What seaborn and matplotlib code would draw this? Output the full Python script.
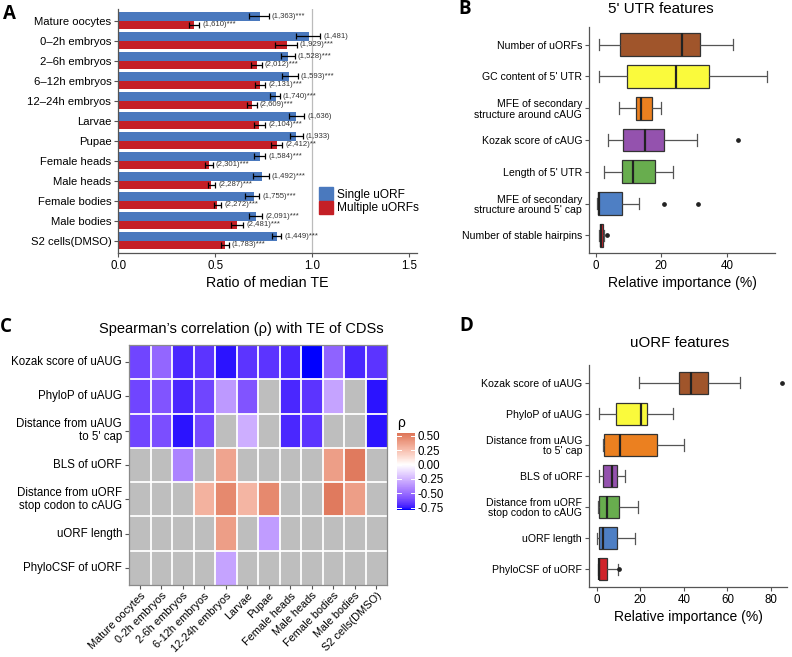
import numpy as np
import pandas as pd
import matplotlib
matplotlib.use("Agg")
import matplotlib.pyplot as plt
import seaborn as sns
from matplotlib.colors import ListedColormap
from matplotlib.patches import Patch

plt.rcParams['font.family'] = ['Liberation Sans', 'DejaVu Sans']

# ---------------- Panel A data ----------------
tissues_A = ["Mature oocytes", "0–2h embryos", "2–6h embryos", "6–12h embryos", "12–24h embryos",
             "Larvae", "Pupae", "Female heads", "Male heads", "Female bodies", "Male bodies",
             "S2 cells(DMSO)"]
single_ratio = [0.729, 0.981, 0.876, 0.880, 0.811, 0.918, 0.918, 0.729, 0.741, 0.698, 0.708, 0.816]
single_lo = [0.675, 0.916, 0.837, 0.845, 0.782, 0.881, 0.885, 0.699, 0.692, 0.653, 0.674, 0.792]
single_hi = [0.775, 1.040, 0.909, 0.924, 0.833, 0.957, 0.950, 0.758, 0.775, 0.727, 0.741, 0.840]
multi_ratio = [0.392, 0.868, 0.713, 0.732, 0.687, 0.725, 0.816, 0.466, 0.478, 0.510, 0.612, 0.548]
multi_lo = [0.363, 0.806, 0.685, 0.706, 0.662, 0.698, 0.785, 0.447, 0.464, 0.491, 0.579, 0.527]
multi_hi = [0.418, 0.919, 0.740, 0.758, 0.713, 0.758, 0.845, 0.486, 0.500, 0.531, 0.644, 0.570]
single_labels = ["(1,363)***", "(1,481)", "(1,528)***", "(1,593)***", "(1,740)***", "(1,636)",
                 "(1,933)", "(1,584)***", "(1,492)***", "(1,755)***", "(2,091)***", "(1,449)***"]
multi_labels = ["(1,610)***", "(1,929)***", "(2,012)***", "(2,131)***", "(2,609)***", "(2,104)***",
                "(2,412)**", "(2,301)***", "(2,287)***", "(2,272)***", "(2,481)***", "(1,783)***"]
groups_A = ["Single uORF", "Multiple uORFs"]

# ---------------- Panel B data ----------------
feat_B = ["Number of uORFs", "GC content of 5' UTR", "MFE of secondary\nstructure around cAUG",
          "Kozak score of cAUG", "Length of 5' UTR", "MFE of secondary\nstructure around 5' cap",
          "Number of stable hairpins"]
vals_B = [
    [1.1, 3.5, 5.8, 7.6, 14.0, 21.5, 26.2, 28.0, 30.1, 31.8, 35.5, 38.9, 41.8],
    [1.0, 4.2, 7.5, 9.7, 15.3, 20.1, 24.4, 27.9, 31.6, 34.7, 40.2, 46.8, 52.2],
    [7.2, 9.0, 11.1, 12.4, 12.9, 13.4, 13.8, 15.0, 16.2, 17.1, 18.0, 19.2, 20.1],
    [3.7, 5.5, 7.1, 8.4, 10.6, 13.2, 15.1, 17.0, 19.3, 21.0, 25.8, 30.9, 43.3],
    [2.6, 4.8, 6.9, 8.2, 9.4, 10.5, 11.3, 13.6, 16.0, 18.1, 20.2, 22.0, 23.7],
    [0.3, 0.5, 0.6, 0.7, 0.9, 1.0, 1.1, 3.2, 5.9, 8.2, 13.3, 21.0, 31.3],
    [1.1, 1.2, 1.4, 1.5, 1.6, 1.7, 1.8, 1.9, 2.0, 2.2, 2.3, 2.5, 3.4],
]

# ---------------- Panel C data ----------------
tissues_C = ["Mature oocytes", "0-2h embryos", "2-6h embryos", "6-12h embryos", "12-24h embryos",
             "Larvae", "Pupae", "Female heads", "Male heads", "Female bodies", "Male bodies",
             "S2 cells(DMSO)"]
feat_C = ["Kozak score of uAUG", "PhyloP of uAUG", "Distance from uAUG\nto 5' cap", "BLS of uORF",
          "Distance from uORF\nstop codon to cAUG", "uORF length", "PhyloCSF of uORF"]
nan = np.nan
rho_kozak = [-0.63, -0.52, -0.72, -0.68, -0.76, -0.68, -0.68, -0.72, -0.79, -0.53, -0.72, -0.68]
rho_phylop = [-0.63, -0.58, -0.72, -0.63, -0.35, -0.58, nan, -0.72, -0.68, -0.31, nan, -0.76]
rho_dist_cap = [-0.63, -0.60, -0.76, -0.61, nan, -0.27, nan, -0.72, -0.68, nan, nan, -0.76]
rho_bls = [nan, nan, -0.42, nan, 0.36, nan, nan, nan, nan, 0.38, 0.52, nan]
rho_dist_stop = [nan, nan, nan, 0.30, 0.47, 0.29, 0.47, nan, nan, 0.52, 0.38, nan]
rho_len = [nan, nan, nan, nan, 0.38, nan, -0.33, nan, nan, nan, nan, nan]
rho_phylocsf = [nan, nan, nan, nan, -0.31, nan, nan, nan, nan, nan, nan, nan]

# ---------------- Panel D data ----------------
feat_D = ["Kozak score of uAUG", "PhyloP of uAUG", "Distance from uAUG\nto 5' cap", "BLS of uORF",
          "Distance from uORF\nstop codon to cAUG", "uORF length", "PhyloCSF of uORF"]
vals_D = [
    [19.6, 28.4, 34.5, 37.9, 39.6, 41.5, 43.3, 46.0, 48.7, 51.1, 56.2, 65.8, 85.2],
    [1.2, 3.5, 6.4, 9.0, 13.1, 17.2, 20.2, 21.1, 22.0, 22.9, 26.0, 30.5, 34.9],
    [2.9, 3.1, 3.3, 3.5, 5.6, 8.2, 10.7, 16.0, 21.8, 27.5, 31.4, 35.9, 40.1],
    [1.2, 1.8, 2.3, 2.8, 4.1, 5.6, 6.9, 7.7, 8.5, 9.2, 10.5, 11.8, 13.1],
    [0.5, 0.7, 1.0, 1.2, 2.5, 3.7, 4.9, 6.8, 8.6, 10.4, 13.2, 16.1, 19.1],
    [0.3, 0.6, 0.9, 1.2, 1.8, 2.5, 3.1, 5.2, 7.4, 9.5, 12.2, 14.9, 17.6],
    [0.6, 0.7, 0.8, 0.9, 1.0, 1.1, 1.2, 2.3, 3.5, 4.6, 6.8, 9.8, 10.3],
]

# ---------------- styles ----------------
C_BLUE = "#4A79BE"
C_RED = "#C41F26"
box_colors = ["#A0552B", "#FAFA3C", "#EB8020", "#9452AE", "#68AD4E", "#4E7FC4", "#D0232A"]
AX_COL = "#555555"
W, H = 792, 657


def ax_rect(left, top, right, bottom):
    return [left / W, 1 - bottom / H, (right - left) / W, (bottom - top) / H]


# Lab-space colour ramp (like ggplot2 gradient2)
_M = np.array([[0.4124564, 0.3575761, 0.1804375],
               [0.2126729, 0.7151522, 0.0721750],
               [0.0193339, 0.1191920, 0.9503041]])
_Minv = np.linalg.inv(_M)
_WHITE = np.array([0.95047, 1.0, 1.08883])


def hex2rgb(h):
    h = h.lstrip('#')
    return np.array([int(h[i:i + 2], 16) / 255 for i in (0, 2, 4)])


def rgb2lab(rgb):
    lin = np.where(rgb <= 0.04045, rgb / 12.92, ((rgb + 0.055) / 1.055) ** 2.4)
    xyz = _M @ lin / _WHITE
    f = np.where(xyz > 0.008856, np.cbrt(xyz), 7.787 * xyz + 16 / 116)
    return np.array([116 * f[1] - 16, 500 * (f[0] - f[1]), 200 * (f[1] - f[2])])


def lab2rgb(lab):
    L, a, b = lab
    fy = (L + 16) / 116
    fx = fy + a / 500
    fz = fy - b / 200
    f = np.array([fx, fy, fz])
    xyz = np.where(f ** 3 > 0.008856, f ** 3, (f - 16 / 116) / 7.787) * _WHITE
    lin = np.clip(_Minv @ xyz, 0, 1)
    rgb = np.where(lin <= 0.0031308, 12.92 * lin, 1.055 * np.power(lin, 1 / 2.4) - 0.055)
    return np.clip(rgb, 0, 1)


def lab_ramp(c1, c2, n):
    l1, l2 = rgb2lab(hex2rgb(c1)), rgb2lab(hex2rgb(c2))
    return [lab2rgb(l1 + (l2 - l1) * t) for t in np.linspace(0, 1, n)]


cmap_cols = lab_ramp("#0000FF", "#FFFFFF", 128) + lab_ramp("#FFFFFF", "#C03214", 128)[1:]
cmap_rho = ListedColormap(cmap_cols)

fig = plt.figure(figsize=(W / 100, H / 100), dpi=100)

# ================= Panel A =================
axA = fig.add_axes(ax_rect(118.3, 9, 417, 252.7))
dfA = pd.DataFrame({
    "tissue": tissues_A * 2,
    "ratio": single_ratio + multi_ratio,
    "type": [groups_A[0]] * len(tissues_A) + [groups_A[1]] * len(tissues_A),
})
sns.barplot(data=dfA, x="ratio", y="tissue", hue="type", hue_order=groups_A, order=tissues_A,
            palette=[C_BLUE, C_RED], width=0.85, errorbar=None, saturation=1, legend=False, ax=axA,
            zorder=2)
axA.axvline(1.0, color="#BBBBBB", lw=0.9, zorder=1)
for cont, ratio, lo, hi, labs in zip(axA.containers, [single_ratio, multi_ratio],
                                     [single_lo, multi_lo], [single_hi, multi_hi],
                                     [single_labels, multi_labels]):
    ys = [b.get_y() + b.get_height() / 2 for b in cont]
    r = np.array(ratio)
    axA.errorbar(r, ys, xerr=[r - np.array(lo), np.array(hi) - r], fmt='none', ecolor='black',
                 elinewidth=0.9, capsize=2.3, capthick=0.9, zorder=3)
    for y, h, lab in zip(ys, hi, labs):
        axA.text(h + 0.016, y, lab, va='center', ha='left', fontsize=5.6, color='#333333')
axA.set_xlim(0, 1.54)
axA.set_ylim(11.6, -0.58)
axA.set_xticks([0, 0.5, 1.0, 1.5])
axA.set_xticklabels(["0.0", "0.5", "1.0", "1.5"])
axA.set_xlabel("Ratio of median TE", fontsize=10.3, labelpad=3)
axA.set_ylabel("")
axA.tick_params(axis='y', labelsize=8.1, length=3, color=AX_COL, pad=2)
axA.tick_params(axis='x', labelsize=8.3, length=3, color=AX_COL, pad=2)
for s in ["top", "right"]:
    axA.spines[s].set_visible(False)
for s in ["left", "bottom"]:
    axA.spines[s].set_color(AX_COL)
    axA.spines[s].set_linewidth(0.9)
axA.legend(handles=[Patch(color=C_BLUE, label=groups_A[0]), Patch(color=C_RED, label=groups_A[1])],
           loc='upper left', bbox_to_anchor=(0.672, 0.27), frameon=False, fontsize=8.6,
           handlelength=1.15, handleheight=1.35, handletextpad=0.35, labelspacing=0.0,
           borderaxespad=0, borderpad=0)


# ================= Boxplot helper =================
def draw_box(ax, feats, vals, xlim, xticks, ylim):
    df = pd.DataFrame({
        "feature": [f for f, v in zip(feats, vals) for _ in v],
        "value": [x for v in vals for x in v],
    })
    sns.boxplot(data=df, x="value", y="feature", hue="feature", order=feats, hue_order=feats,
                palette=box_colors, legend=False, width=0.72, saturation=1, linecolor="#333333",
                linewidth=0.9, ax=ax,
                flierprops=dict(marker='o', markerfacecolor='#222222', markeredgecolor='#222222',
                                markersize=2.4),
                medianprops=dict(color='#222222', linewidth=1.6),
                whiskerprops=dict(color='#555555'), capprops=dict(color='#555555'))
    ax.set_xlim(*xlim)
    ax.set_ylim(*ylim)
    ax.set_xticks(xticks)
    ax.set_xlabel("Relative importance (%)", fontsize=10, labelpad=3)
    ax.set_ylabel("")
    ax.tick_params(axis='y', labelsize=7.6, length=3, color=AX_COL, pad=2)
    ax.tick_params(axis='x', labelsize=8.3, length=3, color=AX_COL, pad=2)
    for lab in ax.get_yticklabels():
        lab.set_linespacing(1.05)
    for s in ["top", "right"]:
        ax.spines[s].set_visible(False)
    for s in ["left", "bottom"]:
        ax.spines[s].set_color(AX_COL)
        ax.spines[s].set_linewidth(0.9)


# ================= Panel B =================
axB = fig.add_axes(ax_rect(589, 27, 775, 253))
draw_box(axB, feat_B, vals_B, (-2.0, 54.7), [0, 20, 40], (6.55, -0.55))
fig.text(661 / W, 1 - 9 / H, "5' UTR features", ha='center', va='center', fontsize=10.9)

# ================= Panel D =================
axD = fig.add_axes(ax_rect(589, 365, 787, 587))
draw_box(axD, feat_D, vals_D, (-3.5, 87.3), [0, 20, 40, 60, 80], (6.57, -0.57))
fig.text(680 / W, 1 - 343 / H, "uORF features", ha='center', va='center', fontsize=10.9)

# ================= Panel C =================
axC = fig.add_axes(ax_rect(129, 345, 387, 585))
cax = fig.add_axes(ax_rect(397, 433, 415, 510))
dfC = pd.DataFrame([rho_kozak, rho_phylop, rho_dist_cap, rho_bls, rho_dist_stop, rho_len,
                    rho_phylocsf], index=feat_C, columns=tissues_C)
sns.heatmap(dfC, cmap=cmap_rho, vmin=-0.79, vmax=0.55, center=0, ax=axC, cbar_ax=cax,
            linewidths=0, cbar_kws={"ticks": [-0.75, -0.5, -0.25, 0, 0.25, 0.5]})
axC.set_facecolor("#BEBEBE")
for i in range(1, dfC.shape[0]):
    axC.axhline(i, color='white', lw=1.3)
for j in range(1, dfC.shape[1]):
    axC.axvline(j, color='white', lw=1.3)
for s in axC.spines.values():
    s.set_visible(True)
    s.set_color("#8A8A8A")
    s.set_linewidth(0.9)
axC.set_xlabel("")
axC.set_ylabel("")
axC.set_yticklabels(feat_C, rotation=0, fontsize=8.3, linespacing=1.05)
axC.set_xticklabels(tissues_C, rotation=45, ha='right', rotation_mode='anchor', fontsize=7.9)
axC.tick_params(axis='y', length=3, color=AX_COL, width=0.8, pad=2)
axC.tick_params(axis='x', length=3, color=AX_COL, width=0.8, pad=1)
cbar = axC.collections[0].colorbar
cbar.outline.set_visible(False)
cbar.set_ticklabels(["-0.75", "-0.50", "-0.25", "0.00", "0.25", "0.50"])
cbar.ax.tick_params(length=0, labelsize=8.3, pad=2)
for t in [-0.75, -0.5, -0.25, 0, 0.25, 0.5]:
    cbar.ax.plot([0, 0.2], [t, t], color='white', lw=0.7, transform=cbar.ax.get_yaxis_transform())
    cbar.ax.plot([0.8, 1.0], [t, t], color='white', lw=0.7, transform=cbar.ax.get_yaxis_transform())
fig.text(397 / W, 1 - 423 / H, "ρ", ha='left', va='center', fontsize=10)
fig.text(241 / W, 1 - 329 / H, "Spearman’s correlation (ρ) with TE of CDSs", ha='center',
         va='center', fontsize=10.5)

# ================= Panel letters =================
for lab, x, y in [("A", 3, 14), ("B", 458, 9), ("C", 0, 327), ("D", 459, 326)]:
    fig.text(x / W, 1 - y / H, lab, ha='left', va='center', fontsize=13.5, fontweight='bold',
             family=['Open Sans', 'DejaVu Sans'])

fig.savefig("out.png", dpi=100)
